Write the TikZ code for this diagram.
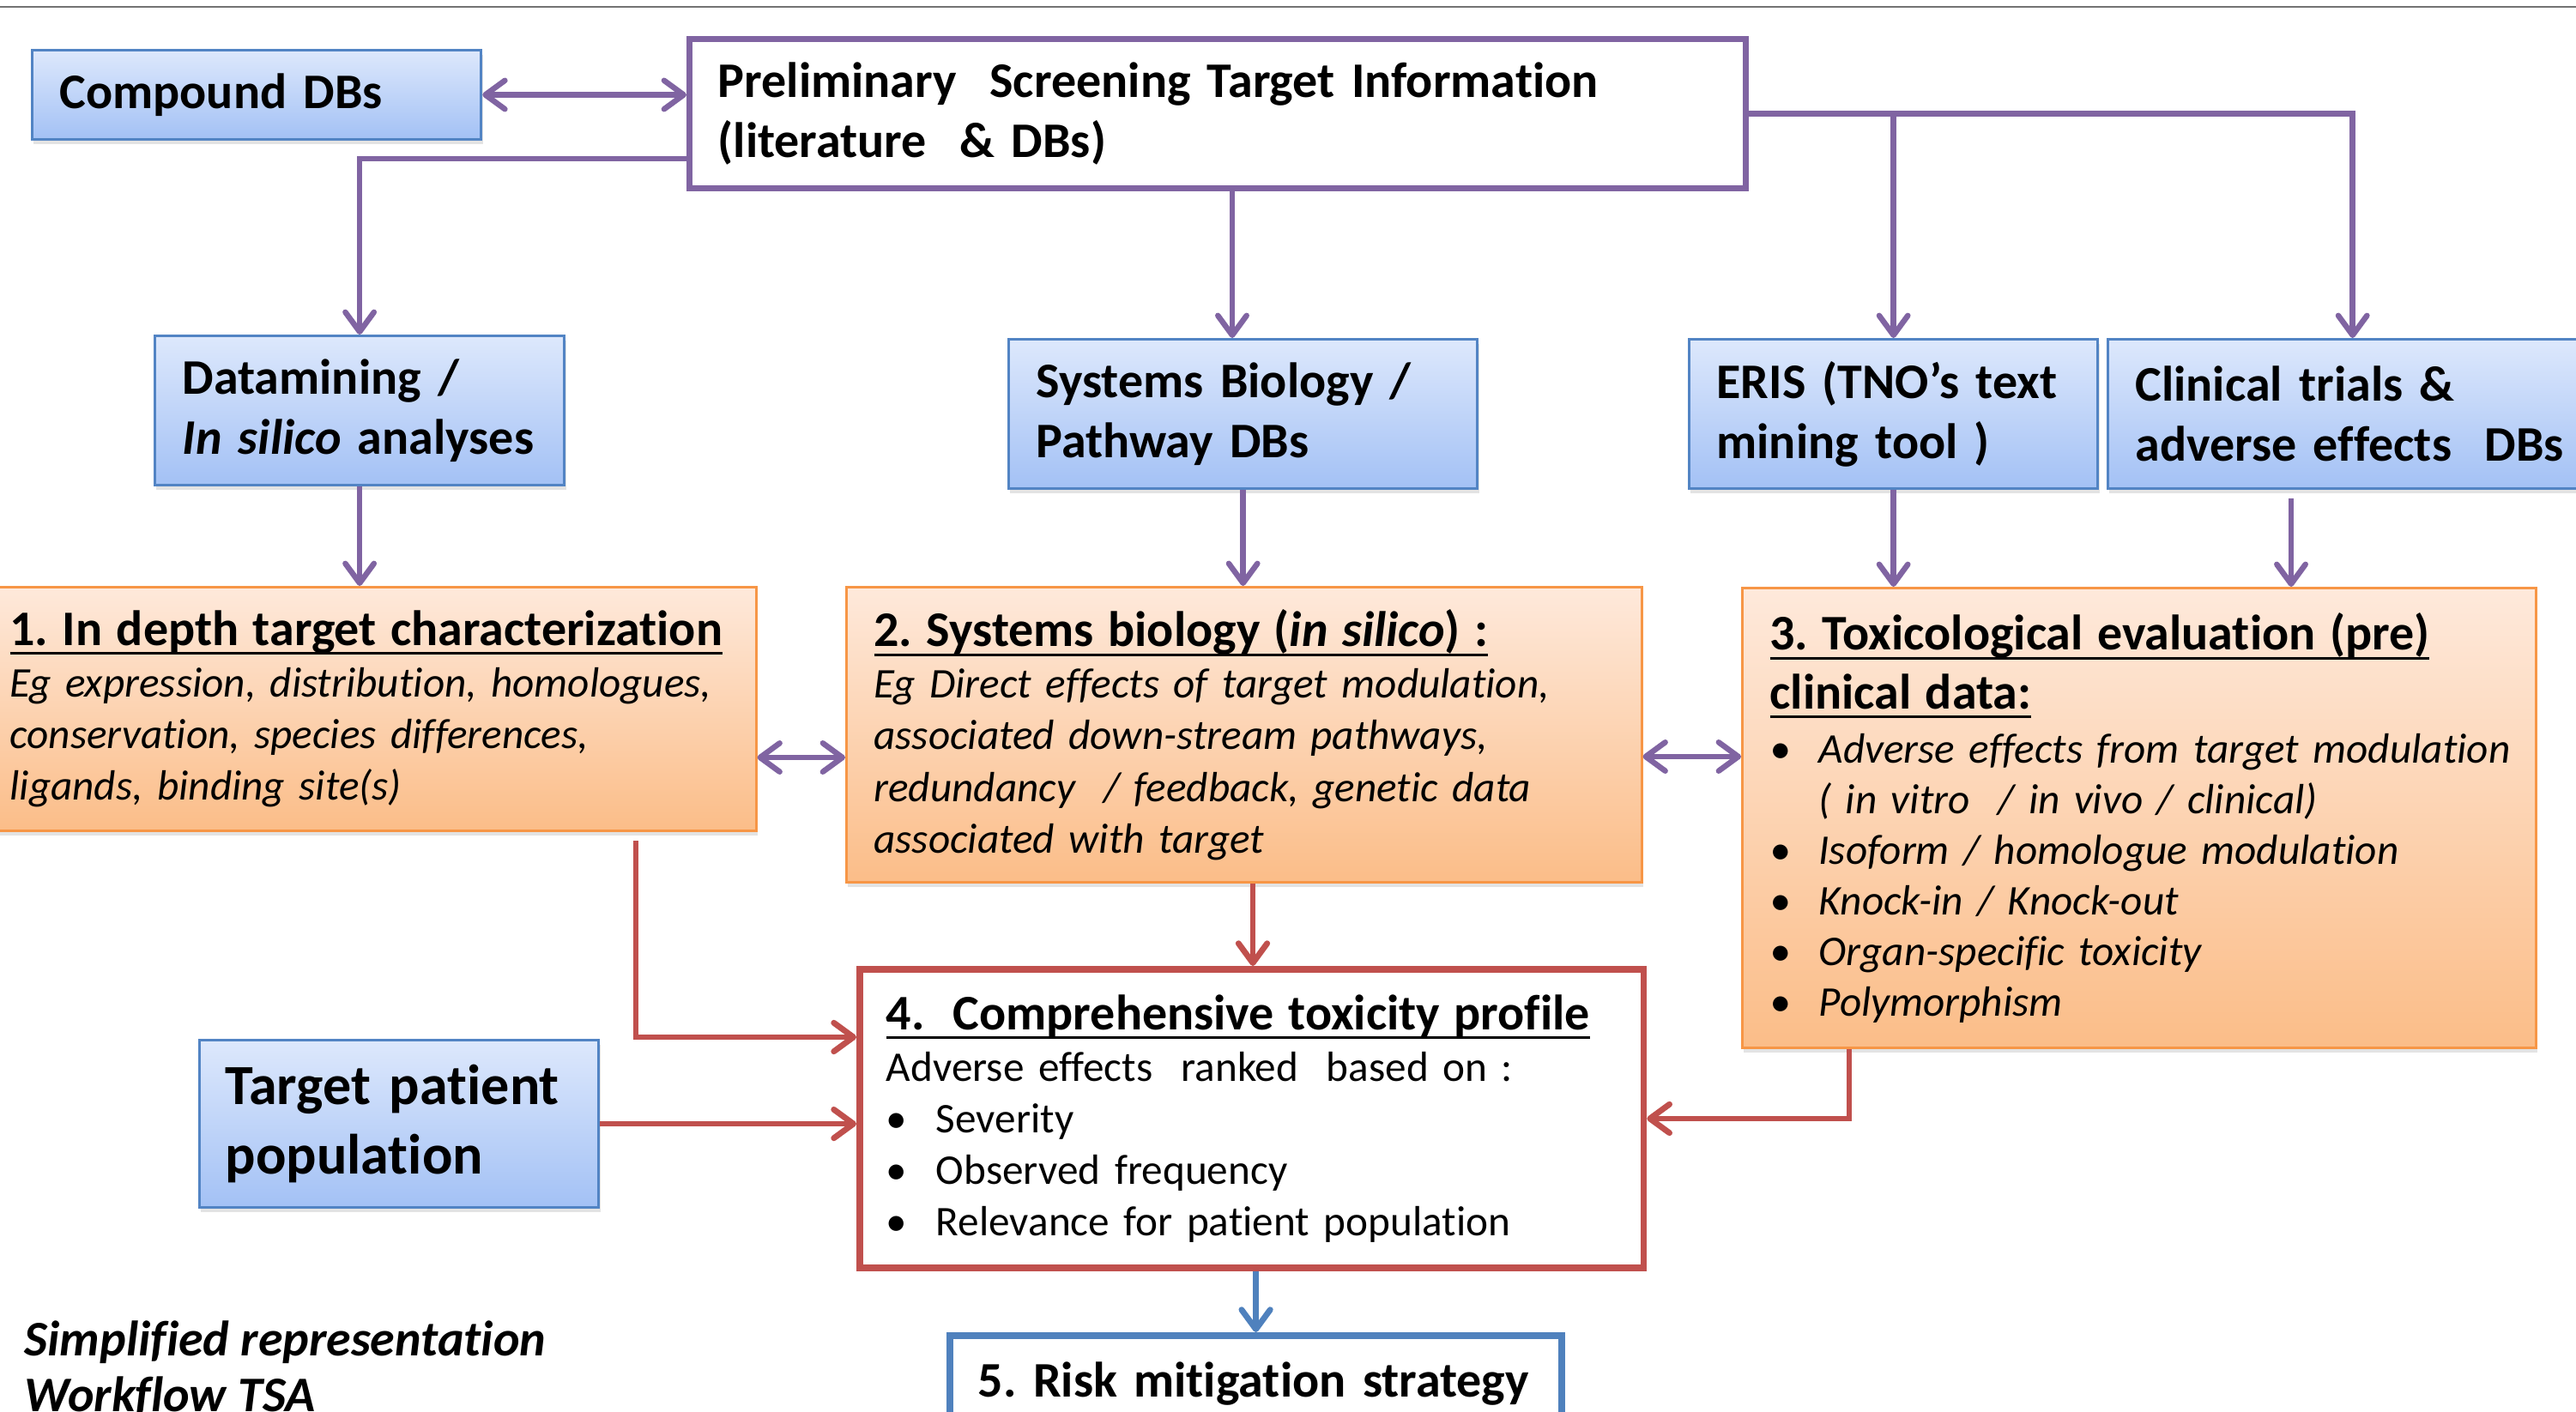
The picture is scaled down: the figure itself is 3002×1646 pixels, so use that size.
\documentclass[tikz,border=0pt]{standalone}
\usepackage{fontspec}
\setmainfont{Carlito}[Ligatures={NoCommon}]
\usetikzlibrary{arrows.meta,shadows,calc}
\setlength\parindent{0pt}
\frenchspacing
\definecolor{pur}{HTML}{8064A2}
\definecolor{redc}{HTML}{C0504D}
\definecolor{bluc}{HTML}{4F81BD}
\definecolor{btop}{HTML}{DDE8FC}
\definecolor{bbot}{HTML}{A3C1F5}
\definecolor{bbord}{HTML}{5284C4}
\definecolor{otop}{HTML}{FEE9DB}
\definecolor{obot}{HTML}{FBBD88}
\definecolor{obord}{HTML}{F79646}
\newcommand\myul[1]{\leavevmode\setbox0=\hbox{#1}\rlap{\rule[-3.1pt]{\wd0}{0.85pt}}\box0}
\newcommand\tfont{\bfseries\upshape\fontsize{16.5pt}{19.9pt}\selectfont}
\newcommand\bfont{\fontsize{14pt}{17.1pt}\selectfont}
\newcommand\bltA{\makebox[0.57cm][l]{\textbullet}}
\newcommand\bltB{\makebox[0.58cm][l]{\textbullet}}
\begin{document}
\begin{tikzpicture}[x=0.01cm,y=-0.01cm,
  basebox/.style={anchor=north west, align=left, inner ysep=0pt, inner xsep=0.32cm},
  shad/.style={drop shadow={shadow xshift=0.5pt, shadow yshift=-1.6pt, opacity=0.22}},
  bluebox/.style={basebox, draw=bbord, line width=0.85pt, top color=btop, bottom color=bbot, shad, font=\tfont},
  orbox/.style={basebox, draw=obord, line width=0.85pt, top color=otop, bottom color=obot, shad, font=\bfont\itshape},
  tipA/.tip={Straight Barb[round,length=6.5pt,width=9.5pt]},
  conn/.style={draw=pur, line width=1.85pt, -tipA},
  dconn/.style={draw=pur, line width=1.85pt, tipA-tipA},
  rconn/.style={draw=redc, line width=1.95pt, -tipA},
  bconn/.style={draw=bluc, line width=1.95pt, -tipA}]

\path[fill=white, use as bounding box] (0,0) rectangle (3002,1646);
\draw[black!55, line width=0.7pt] (0,8) -- (3002,8);

% top row
\node[bluebox, minimum width=5.23cm, minimum height=1.04cm, text width=4.59cm] (cdb) at (36,57) {Compound DBs};
\node[basebox, inner xsep=0.33cm, draw=pur, line width=2.1pt, fill=white, font=\tfont, minimum width=12.30cm, minimum height=1.74cm, text width=11.64cm] (prelim) at (800,42) {Preliminary\ \ Screening Target Information\\(literature\ \ \& DBs)};

% second row
\node[bluebox, minimum width=4.77cm, minimum height=1.74cm, text width=4.13cm] (dm) at (179,390) {Datamining /\\\textit{In silico} analyses};
\node[bluebox, minimum width=5.46cm, minimum height=1.74cm, text width=4.82cm] (sb) at (1174,394) {Systems Biology /\\Pathway DBs};
\node[bluebox, minimum width=4.76cm, minimum height=1.74cm, text width=4.12cm] (eris) at (1967,394) {ERIS (TNO’s text\\mining tool )};
\node[bluebox, minimum width=5.70cm, minimum height=1.74cm, text width=5.06cm] (cl) at (2455,394) {Clinical trials \&\\adverse effects\ \ DBs};

% third row
\node[orbox, minimum width=9.01cm, minimum height=2.84cm, text width=8.37cm] (b1) at (-22,683)
 {{\tfont\myul{1. In depth target characterization}}\\
  \mbox{Eg expression, distribution, homologues,}\\
  conservation, species differences,\\
  ligands, binding site(s)};
\node[orbox, minimum width=9.26cm, minimum height=3.44cm, text width=8.62cm] (b2) at (985,683)
 {{\tfont\myul{2. Systems biology (\textit{in silico}) :}}\\
  \mbox{Eg Direct effects of target modulation,}\\
  associated down-stream pathways,\\
  \mbox{redundancy\ \ / feedback, genetic data}\\
  associated with target};
\node[orbox, minimum width=9.24cm, minimum height=5.36cm, text width=8.60cm, font=\itshape\fontsize{14pt}{16.8pt}\selectfont] (b3) at (2029,684)
 {{\tfont\myul{3. Toxicological evaluation (pre)}}\\[2.6pt]
  {\tfont\myul{clinical data:}}\\[1.1pt]
  \mbox{\bltA Adverse effects from target modulation}\\
  \mbox{\hspace*{0.57cm}( in vitro\ \ / in vivo / clinical)}\\
  \mbox{\bltA Isoform / homologue modulation}\\
  \mbox{\bltA Knock-in / Knock-out}\\
  \mbox{\bltA Organ-specific toxicity}\\
  \mbox{\bltA Polymorphism}};

% fourth row
\node[basebox, inner xsep=0.31cm, draw=redc, line width=2.2pt, fill=white, font=\bfont, minimum width=9.13cm, minimum height=3.48cm, text width=8.51cm] (b4) at (998,1126)
 {{\tfont\myul{4.\ \ Comprehensive toxicity profile}}\\
  \mbox{Adverse effects\ \ ranked\ \ based on :}\\
  \mbox{\bltB Severity}\\
  \mbox{\bltB Observed frequency}\\
  \mbox{\bltB Relevance for patient population}};
\node[bluebox, inner xsep=0.30cm, font=\bfseries\fontsize{18.8pt}{23pt}\selectfont, minimum width=4.65cm, minimum height=1.95cm, text width=4.05cm] (tp) at (231,1211) {Target patient\\population};

% bottom
\node[basebox, inner xsep=0.33cm, draw=bluc, line width=2.2pt, fill=white, font=\tfont, minimum width=7.13cm, minimum height=1.13cm, text width=6.47cm] (b5) at (1103,1553) {\mbox{5. Risk mitigation strategy}};
\node[anchor=base west, inner sep=0pt, font=\bfseries\itshape\fontsize{16.5pt}{19.9pt}\selectfont] (n1) at (28,1580) {Simplified representation};
\node[anchor=base west, inner sep=0pt, font=\bfseries\itshape\fontsize{16.5pt}{19.9pt}\selectfont] (n2) at (28,1645) {Workflow TSA};

% connectors
\draw[dconn] (cdb.east) -- (cdb.east -| prelim.west);
\draw[conn] (prelim.west |- 0,185) -| (dm.north);
\draw[conn] (prelim.south -| 1436,0) -- (sb.north -| 1436,0);
\draw[conn] (prelim.east) -| (cl.north);
\draw[conn] (prelim.east -| eris.north) -- (eris.north);
\draw[conn] (dm.south) -- (dm.south |- b1.north);
\draw[conn] (sb.south) -- (sb.south |- b2.north);
\draw[conn] (eris.south) -- (eris.south |- b3.north);
\draw[conn, shorten <=0.1cm] (cl.south -| 2670,0) -- (b3.north -| 2670,0);
\draw[dconn] (b1.east |- 0,883) -- (b2.west |- 0,883);
\draw[dconn] (b2.east |- 0,882) -- (b3.west |- 0,882);
\draw[rconn] (b2.south -| 1460,0) -- (b4.north -| 1460,0);
\draw[rconn, shorten <=0.1cm] (b1.south -| 741,0) |- (b4.west |- 0,1209);
\draw[rconn] (tp.east) -- (tp.east -| b4.west);
\draw[rconn] (b3.south -| 2155,0) |- (b4.east);
\draw[bconn] (b4.south -| b5.north) -- (b5.north);
\end{tikzpicture}
\end{document}
